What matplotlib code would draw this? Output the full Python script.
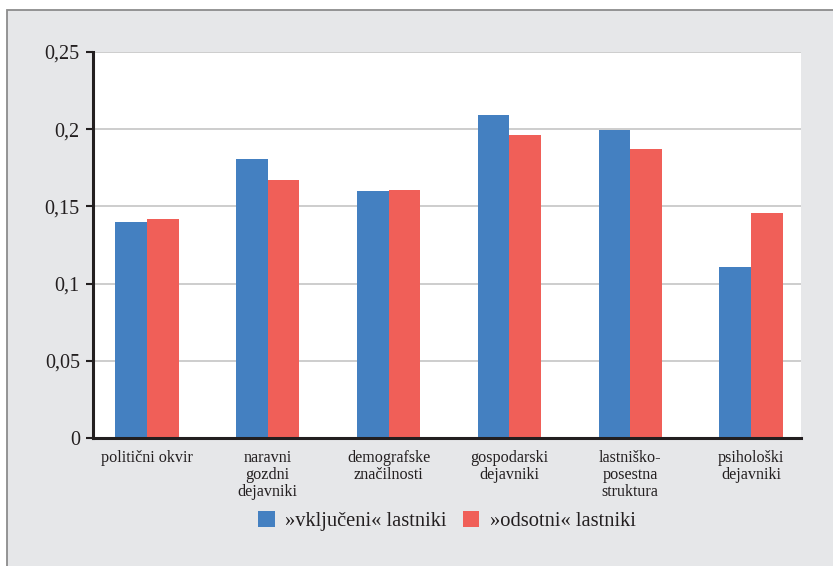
import matplotlib
matplotlib.use("Agg")
import matplotlib.pyplot as plt
from matplotlib.patches import Rectangle
import numpy as np

categories = ["politični okvir", "naravni\ngozdni\ndejavniki", "demografske\nznačilnosti",
              "gospodarski\ndejavniki", "lastniško-\nposestna\nstruktura", "psihološki\ndejavniki"]
vkljuceni = [0.140, 0.181, 0.160, 0.209, 0.1995, 0.111]
odsotni = [0.142, 0.167, 0.1605, 0.196, 0.187, 0.1455]
yticks = [0, 0.05, 0.1, 0.15, 0.2, 0.25]
ytick_labels = ["0", "0,05", "0,1", "0,15", "0,2", "0,25"]
series_names = ["»vključeni« lastniki", "»odsotni« lastniki"]

BLUE = "#4480C1"
RED = "#F05F58"
TXT = "#231F20"
BG = "#E6E7E9"

plt.rcParams["font.family"] = ["Liberation Serif", "DejaVu Serif"]

W, H = 833, 566
fig = plt.figure(figsize=(W / 100, H / 100), dpi=100)
fig.patch.set_facecolor("white")

# outer frame (cropped at right/bottom)
frame = Rectangle((6.5 / W, -0.05), 1.1, 1 - 9.5 / H + 0.05, transform=fig.transFigure,
                  facecolor=BG, edgecolor="#8C8C8C", linewidth=1.3, zorder=-10)
fig.patches.append(frame)

ax = fig.add_axes([93 / W, 1 - 438 / H, (801 - 93) / W, (438 - 52) / H])
ax.set_facecolor("white")

x = np.arange(len(categories))
w = 0.262
b1 = ax.bar(x - w / 2, vkljuceni, w, color=BLUE, label=series_names[0], zorder=3)
b2 = ax.bar(x + w / 2, odsotni, w, color=RED, label=series_names[1], zorder=3)

ax.set_xlim(-0.447, 5.414)
ax.set_ylim(0, 0.25)
ax.set_yticks(yticks)
ax.set_yticklabels(ytick_labels, fontsize=14.5, color=TXT)
ax.set_xticks(x)
ax.set_xticklabels(categories, fontsize=11.6, color=TXT, linespacing=1.06, va="top")
ax.tick_params(axis="x", length=0, pad=9)
ax.tick_params(axis="y", length=5, width=1.5, color=TXT, pad=4.5, direction="out")

ax.yaxis.grid(True, color="#C0C0C0", linewidth=1.1, zorder=0)
ax.set_axisbelow(True)
for s in ["top", "right"]:
    ax.spines[s].set_visible(False)
for s in ["left", "bottom"]:
    ax.spines[s].set_color(TXT)
    ax.spines[s].set_linewidth(2.2)
    ax.spines[s].set_zorder(5)

leg = fig.legend(handles=[b1, b2], labels=series_names, loc="center",
                 bbox_to_anchor=(447 / W, 1 - 521 / H), ncol=2, frameon=False,
                 fontsize=14.8, handlelength=0.8, handleheight=0.8,
                 handletextpad=0.5, columnspacing=0.8, labelcolor=TXT)

fig.savefig("out.png", dpi=100, facecolor=fig.get_facecolor())
